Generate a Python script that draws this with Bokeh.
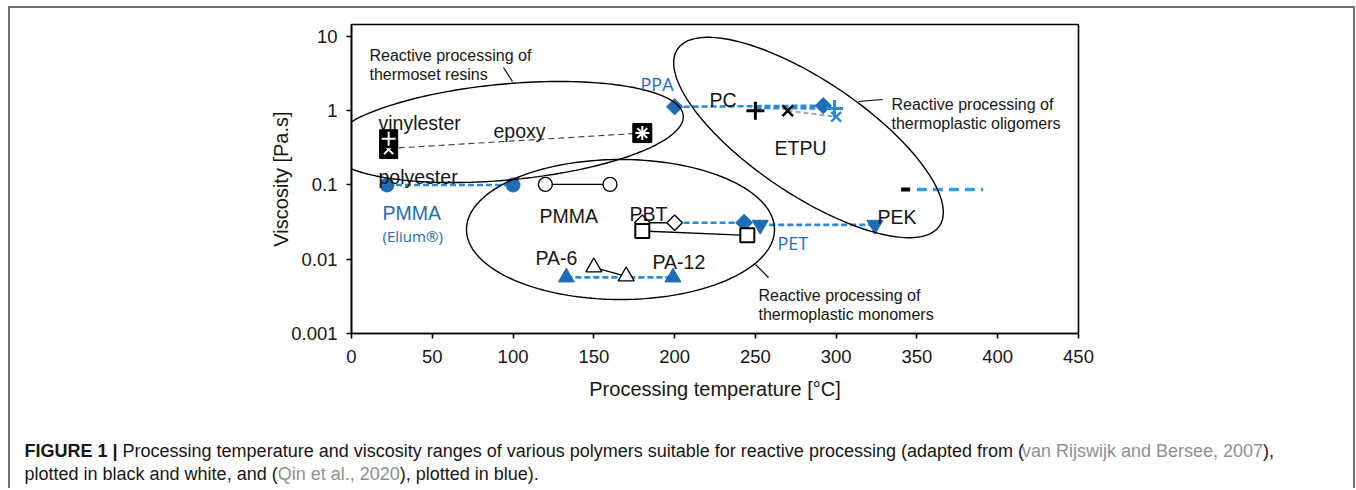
import math
from bokeh.plotting import figure
from bokeh.layouts import column, row
from bokeh.models import Range1d, FixedTicker, CustomJSTickFormatter, Label, PolyAnnotation
from bokeh.embed import file_html
from bokeh.resources import INLINE

# ------------------------------------------------------------------ data
x_ticks = [0, 50, 100, 150, 200, 250, 300, 350, 400, 450]
y_ticks = [0.001, 0.01, 0.1, 1, 10]

# van Rijswijk & Bersee 2007 (black / white symbols)
vinylester_T, vinylester_eta = [23], [0.42]
polyester_T, polyester_eta = [23], [0.30]
epoxy_T, epoxy_eta = [180], [0.50]
pmma_T, pmma_eta = [120, 160], [0.102, 0.102]
pbt_T, pbt_eta = [180, 200], [0.031, 0.031]
cbt_T, cbt_eta = [180, 245], [0.024, 0.021]
pa6_T, pa6_eta = [150, 170], [0.0078, 0.0059]
pc_T, pc_eta = [250], [1.0]
etpu_T, etpu_eta = [270], [1.0]
pek_T, pek_eta = [343], [0.087]

# Qin et al. 2020 (blue symbols)
pmma_el_T, pmma_el_eta = [22, 100], [0.1, 0.1]
ppa_T, ppa_eta = [200, 292], [1.13, 1.17]
pc_b_T, pc_b_eta = [250, 299], [1.09, 1.07]
etpu_b_T, etpu_b_eta = [300], [0.83]
pbt_b_T, pbt_b_eta = [200, 243], [0.031, 0.031]
pet_T, pet_eta = [253, 324], [0.029, 0.029]
pa_b_T, pa_b_eta = [133, 199], [0.0057, 0.0057]
pek_b_T, pek_b_eta = [350, 391], [0.087, 0.087]

# ------------------------------------------------------------------ geometry / style
OX, OY = 10, 8                 # page position of the chart canvas
FIG_W, FIG_H = 1343, 400
CAP_H = 80
FL, FT, FW, FH = 341, 16, 727, 309
X0, X1 = 0, 450
Y0, Y1 = 0.001, 14.5
LY0, LY1 = math.log10(Y0), math.log10(Y1)
INK = "#161616"
BLUE = "#1f6db5"
BLUE_L = "#2b8bd3"
FONT = "Liberation Sans"
BORDER = "2px solid #707070"


def dx(px):
    return X0 + (px - OX - FL) / FW * (X1 - X0)


def dy(py):
    return 10 ** (LY1 - (py - OY - FT) / FH * (LY1 - LY0))


def ellipse(cx, cy, a, b, ang, n=200):
    th = math.radians(ang)
    xs, ys = [], []
    for i in range(n + 1):
        t = 2 * math.pi * i / n
        px = cx + a * math.cos(t) * math.cos(th) - b * math.sin(t) * math.sin(th)
        py = cy + a * math.cos(t) * math.sin(th) + b * math.sin(t) * math.cos(th)
        xs.append(dx(px))
        ys.append(dy(py))
    return xs, ys


p = figure(width=FIG_W, height=FIG_H, x_range=Range1d(X0, X1), y_range=Range1d(Y0, Y1),
           y_axis_type="log", output_backend="svg", toolbar_location=None,
           min_border_left=FL, min_border_right=FIG_W - FL - FW,
           min_border_top=FT, min_border_bottom=FIG_H - FT - FH,
           x_axis_label="Processing temperature [\u00b0C]", y_axis_label="Viscosity [Pa.s]")
p.grid.visible = False
p.outline_line_color = "black"
p.outline_line_width = 1.6
p.background_fill_color = "white"
p.border_fill_color = "white"

p.xaxis.ticker = FixedTicker(ticks=x_ticks)
p.yaxis.ticker = FixedTicker(ticks=y_ticks)
p.yaxis.formatter = CustomJSTickFormatter(code="return String(Number(tick.toPrecision(3)));")
for ax in (p.xaxis[0], p.yaxis[0]):
    ax.axis_line_width = 1.6
    ax.axis_line_color = "black"
    ax.major_tick_line_width = 1.6
    ax.major_tick_out = 5
    ax.major_tick_in = 0
    ax.minor_tick_line_color = None
    ax.major_label_text_font = FONT
    ax.major_label_text_font_size = "18.5px"
    ax.major_label_text_color = INK
    ax.axis_label_text_font = FONT
    ax.axis_label_text_font_size = "20px"
    ax.axis_label_text_font_style = "normal"
    ax.axis_label_text_color = INK
    ax.major_label_standoff = 9
p.xaxis.major_label_standoff = 11
p.xaxis.axis_label_standoff = 12
p.yaxis.axis_label_standoff = -4

# process-window ellipses
for (cx, cy, a, b, ang) in [(505.5, 131.5, 178, 48, -5.3), (620, 229, 154, 70, 0), (808, 137, 158, 57, 34)]:
    xs, ys = ellipse(cx, cy, a, b, ang)
    p.add_layout(PolyAnnotation(xs=xs, ys=ys, line_color="black", line_alpha=1.0, line_width=1.4,
                                fill_alpha=0))

# leader lines
for (x0, y0, x1, y1) in [(503, 67, 512, 81), (882, 99, 858, 101), (768, 277, 755, 264)]:
    p.line([dx(x0), dx(x1)], [dy(y0), dy(y1)], line_color="black", line_width=1.2)

# ---- connecting lines
p.line([polyester_T[0], epoxy_T[0]], [0.31, epoxy_eta[0]], line_color="#3a3a3a", line_width=1.1, line_dash="6 4")
p.line(pmma_T, pmma_eta, line_color="black", line_width=1.3)
p.line(pbt_T, pbt_eta, line_color="black", line_width=1.3)
p.line(cbt_T, cbt_eta, line_color="black", line_width=1.3)
p.line(pa6_T, pa6_eta, line_color="black", line_width=1.3)
p.line([etpu_T[0], etpu_b_T[0]], [etpu_eta[0], etpu_b_eta[0]], line_color="#a8a8a8", line_width=2, line_dash="5 3")

for T, e in [(pmma_el_T, pmma_el_eta), (ppa_T, ppa_eta), (pc_b_T, pc_b_eta), (pbt_b_T, pbt_b_eta),
             (pet_T, pet_eta), (pa_b_T, pa_b_eta)]:
    p.line(T, e, line_color=BLUE_L, line_width=2.6, line_dash="6 3")
p.line(pek_b_T, pek_b_eta, line_color="#3a9de0", line_width=3.5, line_dash="10 6")

# ---- blue markers
p.scatter(pmma_el_T, pmma_el_eta, marker="circle", size=14, fill_color=BLUE, line_color=BLUE)
p.scatter(ppa_T, ppa_eta, marker="square", angle=45, angle_units="deg", size=11.5, fill_color=BLUE, line_color=BLUE)
p.scatter(pbt_b_T[1:], pbt_b_eta[1:], marker="square", angle=45, angle_units="deg", size=12, fill_color=BLUE, line_color=BLUE)
p.scatter(pet_T, pet_eta, marker="inverted_triangle", size=16, fill_color=BLUE, line_color=BLUE)
p.scatter(pa_b_T, pa_b_eta, marker="triangle", size=16, fill_color=BLUE, line_color=BLUE)
p.scatter(pc_b_T[1:], pc_b_eta[1:], marker="cross", size=17, line_color=BLUE_L, line_width=3)
p.scatter(etpu_b_T, etpu_b_eta, marker="x", size=14, line_color=BLUE_L, line_width=2.5)

# ---- black / white markers
p.scatter(polyester_T, polyester_eta, marker="square", size=18, fill_color="black", line_color="black")
p.scatter(polyester_T, polyester_eta, marker="x", size=13, line_color="white", line_width=2)
p.scatter(vinylester_T, vinylester_eta, marker="square", size=18, fill_color="black", line_color="black")
p.scatter(vinylester_T, vinylester_eta, marker="cross", size=14, line_color="white", line_width=2)
p.scatter(epoxy_T, epoxy_eta, marker="square", size=19, fill_color="black", line_color="black")
p.scatter(epoxy_T, epoxy_eta, marker="asterisk", size=14, line_color="white", line_width=2)
p.scatter(pmma_T, pmma_eta, marker="circle", size=14, fill_color="white", line_color="black", line_width=1.4)
p.scatter(pbt_T, pbt_eta, marker="square", angle=45, angle_units="deg", size=11, fill_color="white", line_color="black", line_width=1.4)
p.scatter(cbt_T, cbt_eta, marker="square", size=14, fill_color="white", line_color="black", line_width=2)
p.scatter(pa6_T, pa6_eta, marker="triangle", size=16, fill_color="white", line_color="black", line_width=1.4)
p.scatter(pc_T, pc_eta, marker="cross", size=18, line_color="black", line_width=3)
p.scatter(etpu_T, etpu_eta, marker="x", size=15, line_color="black", line_width=2.5)
p.scatter(pek_T, pek_eta, marker="dash", size=9, line_color="black", line_width=4)


# ---- text labels (page pixel positions, baseline)
def txt(s, px, py, size, color=INK, font=FONT, style="normal"):
    p.add_layout(Label(x=dx(px), y=dy(py), text=s, text_font=font, text_font_size=size,
                       text_color=color, text_font_style=style, text_baseline="alphabetic",
                       text_align="left"))


txt("Reactive processing of", 369, 55, "16px")
txt("thermoset resins", 369, 74, "16px")
txt("Reactive processing of", 891, 104, "16px")
txt("thermoplastic oligomers", 891, 123, "16px")
txt("Reactive processing of", 758, 295, "16px")
txt("thermoplastic monomers", 758, 314, "16px")

txt("vinylester", 378, 122, "19.5px")
txt("epoxy", 493, 130, "19.5px")
txt("polyester", 378, 176, "19.5px")
txt("PMMA", 382, 212, "19.5px", color=BLUE)
txt("(Elium\u00ae)", 382, 235, "15px", color=BLUE, font="Open Sans")
txt("PMMA", 539, 215, "19.5px")
txt("PBT", 629, 213, "19.5px")
txt("PA-6", 535, 257, "19.5px")
txt("PA-12", 652, 261, "19.5px")
txt("PET", 777, 242, "18px", color=BLUE, font="Open Sans")
txt("PEK", 877, 216, "19.5px")
txt("PC", 709, 99, "19.5px")
txt("ETPU", 774, 147, "19.5px")
txt("PPA", 640, 83, "18px", color=BLUE, font="Open Sans")

# ------------------------------------------------------------------ caption panel
cap = figure(width=FIG_W, height=CAP_H, x_range=Range1d(OX, OX + FIG_W),
             y_range=Range1d(OY + FIG_H + CAP_H, OY + FIG_H),
             output_backend="svg", toolbar_location=None,
             x_axis_location=None, y_axis_location=None,
             min_border=0, min_border_left=0, min_border_right=0, min_border_top=0, min_border_bottom=0)
cap.grid.visible = False
cap.outline_line_color = None
cap.background_fill_color = "white"
cap.border_fill_color = "white"
for fig in (p, cap):
    if "frame_align" in fig.properties():
        fig.frame_align = False

W_REG = {' ': 278, '(': 333, ')': 333, ',': 278, '.': 278, '|': 260, '-': 333,
         'A': 667, 'B': 667, 'C': 722, 'E': 667, 'F': 611, 'G': 778, 'I': 278, 'Q': 778,
         'R': 722, 'U': 722, 'a': 556, 'b': 556, 'c': 500, 'd': 556, 'e': 556, 'f': 278,
         'g': 556, 'h': 556, 'i': 222, 'j': 222, 'k': 500, 'l': 222, 'm': 833, 'n': 556,
         'o': 556, 'p': 556, 'r': 333, 's': 500, 't': 278, 'u': 556, 'v': 500, 'w': 722,
         'x': 500, 'y': 500, 'z': 500}
W_BOLD = {' ': 278, 'F': 611, 'I': 278, 'G': 778, 'U': 722, 'R': 722, 'E': 667, '1': 556, '|': 280}


def tw(s, size, bold=False):
    tab = W_BOLD if bold else W_REG
    return sum(tab.get(c, 556) for c in s) * size / 1000.0


CAPF = 18
GRAY = "#8f8f8f"
cap_lines = [
    [("FIGURE 1 | ", True, INK), ("Processing temperature and viscosity ranges of various polymers suitable for reactive processing (adapted from (", False, INK),
     ("van Rijswijk and Bersee, 2007", False, GRAY), ("),", False, INK)],
    [("plotted in black and white, and (", False, INK), ("Qin et al., 2020", False, GRAY), ("), plotted in blue).", False, INK)],
]
for line, base in zip(cap_lines, [450, 473]):
    x = 24
    for s, bold, col in line:
        cap.add_layout(Label(x=x, y=base, text=s, text_font=FONT, text_font_size="%dpx" % CAPF,
                             text_color=col, text_font_style="bold" if bold else "normal",
                             text_baseline="alphabetic", text_align="left"))
        x += tw(s, CAPF, bold)

layout = column(p, row(cap, spacing=0), spacing=0, margin=(6, 0, 0, 8),
                styles={"border-top": BORDER, "border-left": BORDER, "border-right": BORDER})

open("out.html", "w").write(file_html(layout, INLINE))
